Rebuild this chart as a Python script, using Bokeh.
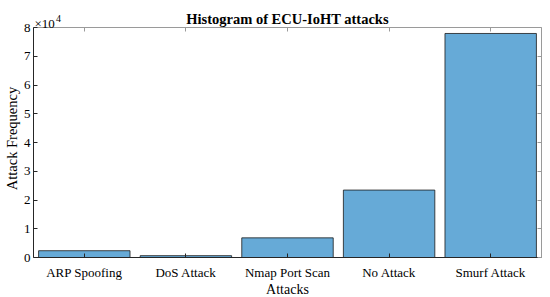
import math
from bokeh.plotting import figure
from bokeh.models import Range1d, LinearAxis, FixedTicker, Label, ColumnDataSource
from bokeh.core.properties import value
from bokeh.embed import file_html
from bokeh.resources import INLINE

categories = ["ARP Spoofing", "DoS Attack", "Nmap Port Scan", "No Attack", "Smurf Attack"]
counts = [2359, 639, 6836, 23453, 77920]
y_ticks = [0, 10000, 20000, 30000, 40000, 50000, 60000, 70000, 80000]
y_tick_labels = ["0", "1", "2", "3", "4", "5", "6", "7", "8"]
title_text = "Histogram of ECU-IoHT attacks"
x_title = "Attacks"
y_title = "Attack Frequency"
exponent_text = "×10"
exponent = "4"

FONT = "Liberation Serif"
AX = "#262626"
BOX = "#9a9a9a"

W, H = 550, 297
# plot box in canvas pixels: left, right, top, bottom
BL, BR, BT, BB = 33, 541, 27, 257
x_lo, x_hi = 0.5, len(categories) + 0.5
y_lo, y_hi = 0, 80000
sx = (BR - BL) / (x_hi - x_lo)
sy = (BB - BT) / (y_hi - y_lo)

pos = list(range(1, len(categories) + 1))
src = ColumnDataSource(dict(x=pos, n=counts))

p = figure(width=W, height=H, title=None,
           x_range=Range1d(x_lo - BL / sx, x_hi + (W - BR) / sx),
           y_range=Range1d(y_lo - (H - BB) / sy, y_hi + BT / sy),
           x_axis_location=None, y_axis_location=None, min_border=0,
           output_backend="svg", toolbar_location=None)
p.outline_line_color = None
p.xgrid.visible = False
p.ygrid.visible = False

p.vbar(x="x", top="n", bottom=0, width=0.9, source=src, fill_color="#66AAD7",
       line_color="#1a1a1a", line_width=0.8)

def axis(loc, bounds, ticks, color, side):
    ax = LinearAxis(fixed_location=loc, bounds=bounds, ticker=FixedTicker(ticks=ticks),
                    axis_line_color=color, major_tick_line_color=color,
                    major_tick_in=4, major_tick_out=0, minor_tick_line_color=None,
                    major_label_text_font_size="0px", major_label_text_color=None,
                    major_label_standoff=0)
    p.add_layout(ax, side)

axis(x_lo, (y_lo, y_hi), y_ticks, AX, "left")
axis(y_lo, (x_lo, x_hi), pos, AX, "below")
axis(y_hi, (x_lo, x_hi), pos, BOX, "above")
axis(x_hi, (y_lo, y_hi), y_ticks, BOX, "right")

# tick labels
p.text(x=[x_lo] * len(y_ticks), y=y_ticks, text=y_tick_labels, x_offset=-3,
       text_align="right", text_baseline="middle", text_font=value(FONT),
       text_font_size="13px", text_color="black")
p.text(x=pos, y=[y_lo] * len(pos), text=categories, y_offset=14.7,
       text_align="center", text_baseline="alphabetic", text_font=value(FONT),
       text_font_size="13px", text_color="black")

def lab(**kw):
    base = dict(x_units="screen", y_units="screen", text_font=FONT, text_color="black")
    base.update(kw)
    p.add_layout(Label(**base))

mid_x = (BL + BR) / 2
lab(x=mid_x, y=H - 18.3, text=title_text, text_font_size="14.5px",
    text_font_style="bold", text_align="center", text_baseline="alphabetic")
lab(x=mid_x, y=H - 289, text=x_title, text_font_size="14px", text_align="center",
    text_baseline="alphabetic")
lab(x=11, y=H - 138, text=y_title, text_font_size="14.5px", text_align="center",
    text_baseline="alphabetic", angle=math.pi / 2)
lab(x=34, y=H - 22.7, text=exponent_text, text_font_size="13px",
    text_baseline="alphabetic")
lab(x=55.5, y=H - 17.5, text=exponent, text_font_size="10px", text_baseline="alphabetic")

open("out.html", "w").write(file_html(p, INLINE))
